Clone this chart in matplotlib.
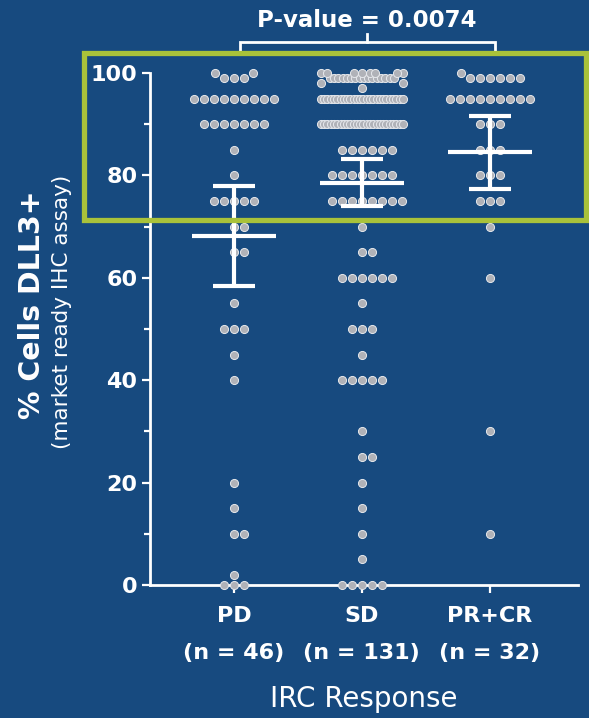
import numpy as np
import matplotlib
matplotlib.use("Agg")
import matplotlib.pyplot as plt
from matplotlib.patches import Rectangle
from matplotlib.ticker import MultipleLocator

plt.rcParams['font.family'] = ['DejaVu Sans']

# Datos: valor -> numero de pacientes
groups = ['PD', 'SD', 'PR+CR']
n_labels = ['(n = 46)', '(n = 131)', '(n = 32)']

pd_vals = [100, 99, 95, 90, 85, 80, 75, 70, 65, 55, 50, 45, 40, 20, 15, 10, 2, 0]
pd_counts = [2, 3, 9, 7, 1, 1, 5, 2, 2, 1, 3, 1, 1, 1, 1, 2, 1, 3]

sd_vals = [100, 99, 98, 97, 95, 90, 85, 80, 75, 70, 65, 60, 55, 50, 45, 40,
           30, 25, 20, 15, 10, 5, 0]
sd_counts = [8, 16, 2, 1, 26, 26, 6, 7, 8, 1, 2, 6, 1, 3, 1, 5,
             1, 2, 1, 1, 1, 1, 5]

pr_vals = [100, 99, 95, 90, 85, 80, 75, 70, 60, 30, 10]
pr_counts = [1, 6, 9, 3, 3, 3, 3, 1, 1, 1, 1]

# media e intervalo (barras blancas)
means = [68.2, 78.6, 84.6]
upper = [77.9, 83.2, 91.7]
lower = [58.4, 74.0, 77.4]

p_text = 'P-value = 0.0074'

bg = '#174a7f'
dot_color = '#b0b2b8'
green = '#a9c23a'

fig = plt.figure(figsize=(5.89, 7.18), dpi=100, facecolor=bg)
ax = fig.add_axes([0.2547, 0.1852, 0.7266, 0.7131], facecolor=bg)
ax.set_xlim(0.344, 3.69)
ax.set_ylim(0, 100)

ppx = ax.bbox.width / (3.69 - 0.344)
ppy = ax.bbox.height / 100.0


def swarm(vals, counts, d=10.0, max_half=42.0):
    # coloca los puntos fila por fila, evitando solapes (en pixeles)
    placed = []
    order = np.argsort(-np.array(counts), kind='stable')
    for k in order:
        v, n = vals[k], counts[k]
        y = v * ppy
        if (n - 1) * d > 2 * max_half:
            half = min(max_half - 1, n * 2.0)
            step = 2 * half / (n - 1)
            for i in range(n):
                placed.append(((i - (n - 1) / 2) * step, y, v))
            continue
        cands = [0.0]
        for s in np.arange(0.5, max_half + 0.01, 0.5):
            cands += [s, -s]
        for _ in range(n):
            dd = d
            pos = None
            while pos is None:
                for c in cands:
                    ok = True
                    for (px, py, _v) in placed:
                        if (px - c) ** 2 + (py - y) ** 2 < dd ** 2:
                            ok = False
                            break
                    if ok:
                        pos = c
                        break
                dd *= 0.9
            placed.append((pos, y, v))
    xs = np.array([p[0] for p in placed]) / ppx
    ys = np.array([p[2] for p in placed])
    return xs, ys


all_vals = [(pd_vals, pd_counts), (sd_vals, sd_counts), (pr_vals, pr_counts)]
for i, (vals, counts) in enumerate(all_vals):
    xs, ys = swarm(vals, counts)
    ax.scatter(xs + i + 1, ys, s=34, color=dot_color, edgecolors='#e6e8ec',
               linewidths=0.7, zorder=3, clip_on=False)

xpos = np.arange(1, len(groups) + 1)
ax.errorbar(xpos, means, yerr=[np.array(means) - np.array(lower),
                               np.array(upper) - np.array(means)],
            fmt='none', ecolor='white', elinewidth=3, capsize=15, capthick=3,
            zorder=5)
ax.hlines(means, xpos - 0.33, xpos + 0.33, colors='white', linewidth=3, zorder=5)

# ejes
for s in ['top', 'right']:
    ax.spines[s].set_visible(False)
for s in ['left', 'bottom']:
    ax.spines[s].set_color('white')
    ax.spines[s].set_linewidth(2)
ax.yaxis.set_major_locator(MultipleLocator(20))
ax.yaxis.set_minor_locator(MultipleLocator(10))
ax.tick_params(axis='y', which='major', colors='white', length=6, width=1.6,
               labelsize=16, pad=3)
ax.tick_params(axis='y', which='minor', colors='white', length=4.5, width=1.6)
ax.tick_params(axis='x', colors='white', length=6, width=1.6, labelsize=16, pad=9)
for lab in ax.get_yticklabels():
    lab.set_fontweight('bold')
ax.set_xticks(xpos)
ax.set_xticklabels([g + '\n' + n for g, n in zip(groups, n_labels)],
                   fontweight='bold', linespacing=2.05)

ax.set_xlabel('IRC Response', color='white', fontsize=20, labelpad=16)
fig.text(0.054, 0.575, '% Cells DLL3+', color='white', fontsize=20.5,
         fontweight='bold', rotation=90, ha='center', va='center')
fig.text(0.105, 0.565, '(market ready IHC assay)', color='white', fontsize=15.5,
         rotation=90, ha='center', va='center')

# corchete del p-valor
yb = 106.0
ax.plot([1.047, 1.047, 3.04, 3.04], [104.3, yb, yb, 104.3], color='white',
        lw=2, clip_on=False, solid_joinstyle='miter')
ax.plot([2.04, 2.04], [yb, 107.6], color='white', lw=2, clip_on=False)
ax.text(2.04, 110.2, p_text, color='white', fontsize=16.5, fontweight='bold',
        ha='center', va='center', clip_on=False)

# recuadro verde
rect = Rectangle((0.1426, 0.6936), 0.852, 0.2326, transform=fig.transFigure,
                 fill=False, edgecolor=green, linewidth=3.8, zorder=10)
fig.add_artist(rect)

fig.savefig('out.png', dpi=100, facecolor=bg)
